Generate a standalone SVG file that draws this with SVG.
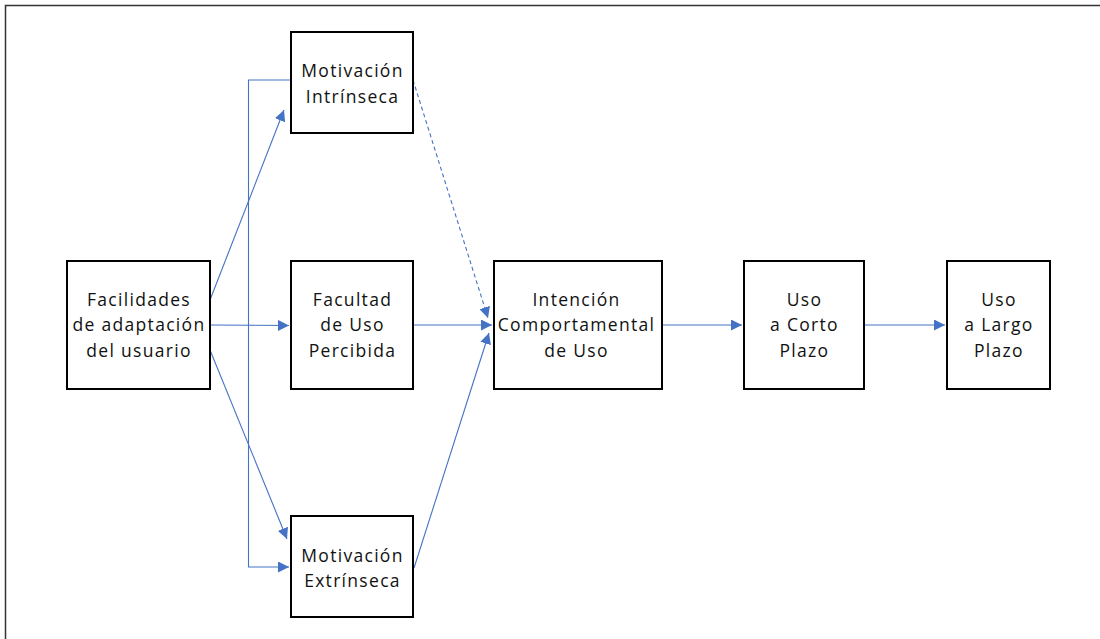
<svg xmlns="http://www.w3.org/2000/svg" width="1100" height="639" viewBox="0 0 1100 639">
  <defs>
    <marker id="arr" viewBox="0 0 10 10" refX="10" refY="5" markerWidth="11" markerHeight="11" markerUnits="userSpaceOnUse" orient="auto">
      <path d="M0,0 L10,5 L0,10 z" fill="#4472C4"/>
    </marker>
    <style>
      .box { fill: #fff; stroke: #000; stroke-width: 2; }
      .lbl { font-family: "Open Sans", "Liberation Sans", sans-serif; font-size: 17.5px; letter-spacing: 1.3px; fill: #111; text-anchor: middle; }
      .c { fill: none; stroke: #4472C4; stroke-width: 1.1; }
      .dash { stroke-dasharray: 4 3; }
    </style>
  </defs>
  <rect width="1100" height="639" fill="#fff"/>
  <!-- outer frame -->
  <path d="M5.5,639 V5.5 H1100" fill="none" stroke="#333" stroke-width="1.5"/>

  <g id="connectors">
    <line class="c" x1="210" y1="300" x2="284" y2="110" marker-end="url(#arr)"/>
    <line class="c" x1="210" y1="325" x2="289" y2="325.5" marker-end="url(#arr)"/>
    <line class="c" x1="210" y1="350" x2="287" y2="539" marker-end="url(#arr)"/>
    <polyline class="c" points="291,80 248.5,80 248.5,567 289,567" marker-end="url(#arr)"/>
    <line class="c dash" x1="413" y1="80" x2="488" y2="318" marker-end="url(#arr)"/>
    <line class="c" x1="413" y1="325" x2="492" y2="325" marker-end="url(#arr)"/>
    <line class="c" x1="414" y1="568" x2="489" y2="333" marker-end="url(#arr)"/>
    <line class="c" x1="662" y1="325" x2="742" y2="325" marker-end="url(#arr)"/>
    <line class="c" x1="864" y1="325" x2="945" y2="325" marker-end="url(#arr)"/>
  </g>

  <g id="facilidades">
    <rect class="box" x="67" y="261" width="143" height="128"/>
    <text class="lbl" x="139" y="306">Facilidades</text>
    <text class="lbl" x="139" y="331">de adaptación</text>
    <text class="lbl" x="139" y="357">del usuario</text>
  </g>
  <g id="mot-intrinseca">
    <rect class="box" x="291" y="32" width="122" height="101"/>
    <text class="lbl" x="352.5" y="77">Motivación</text>
    <text class="lbl" x="352.5" y="103">Intrínseca</text>
  </g>
  <g id="facultad">
    <rect class="box" x="291" y="261" width="122" height="128"/>
    <text class="lbl" x="352.5" y="306">Facultad</text>
    <text class="lbl" x="352.5" y="331">de Uso</text>
    <text class="lbl" x="352.5" y="357">Percibida</text>
  </g>
  <g id="mot-extrinseca">
    <rect class="box" x="291" y="516" width="122" height="101"/>
    <text class="lbl" x="352.5" y="562">Motivación</text>
    <text class="lbl" x="352.5" y="587">Extrínseca</text>
  </g>
  <g id="intencion">
    <rect class="box" x="494" y="261" width="168" height="128"/>
    <text class="lbl" x="576.5" y="306">Intención</text>
    <text class="lbl" x="576.5" y="331">Comportamental</text>
    <text class="lbl" x="576.5" y="357">de Uso</text>
  </g>
  <g id="corto">
    <rect class="box" x="744" y="261" width="120" height="128"/>
    <text class="lbl" x="804.5" y="306">Uso</text>
    <text class="lbl" x="804.5" y="331">a Corto</text>
    <text class="lbl" x="804.5" y="357">Plazo</text>
  </g>
  <g id="largo">
    <rect class="box" x="947" y="261" width="103" height="128"/>
    <text class="lbl" x="999" y="306">Uso</text>
    <text class="lbl" x="999" y="331">a Largo</text>
    <text class="lbl" x="999" y="357">Plazo</text>
  </g>
</svg>
